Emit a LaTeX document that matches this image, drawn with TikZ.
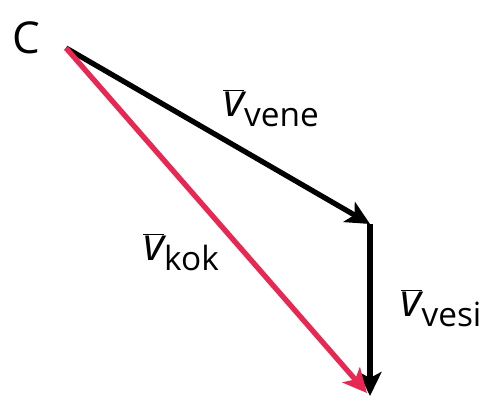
\documentclass[tikz,border=0pt]{standalone}
\usepackage{fontspec}
\setmainfont{Open Sans}
\usetikzlibrary{arrows.meta}
\definecolor{kokred}{RGB}{231,40,82}
\newcommand{\velo}[1]{{\fontsize{26}{26}\selectfont$\overline{\hbox{\itshape v}}$}{\fontsize{19}{19}\selectfont\raisebox{-0.3em}{#1}}}
\begin{document}
\begin{tikzpicture}[x=0.02cm, y=-0.02cm, >={Stealth[length=0.48cm, width=0.46cm, inset=0.12cm]}]
        \useasboundingbox (0,0) rectangle (483,396);
        % Points
        \coordinate (C) at (66,48);
        \coordinate (mid) at (370,224);
        \coordinate (end) at (370,396);
        \coordinate (redend) at (367,393);
        \node[font=\fontsize{25}{25}\selectfont] (lC) at (26,38) {C};

        % Vectors
        \draw[->, line width=3pt, black] (C) -- (mid);
        \draw[->, line width=3pt, black] (mid) -- (end);
        \draw[->, line width=3pt, kokred] (C) -- (redend);

        % Labels
        \node (lvene) at (271,108) {\velo{vene}};
        \node (lkok) at (181,252) {\velo{kok}};
        \node (lvesi) at (441,308) {\velo{vesi}};
    \end{tikzpicture}
\end{document}
